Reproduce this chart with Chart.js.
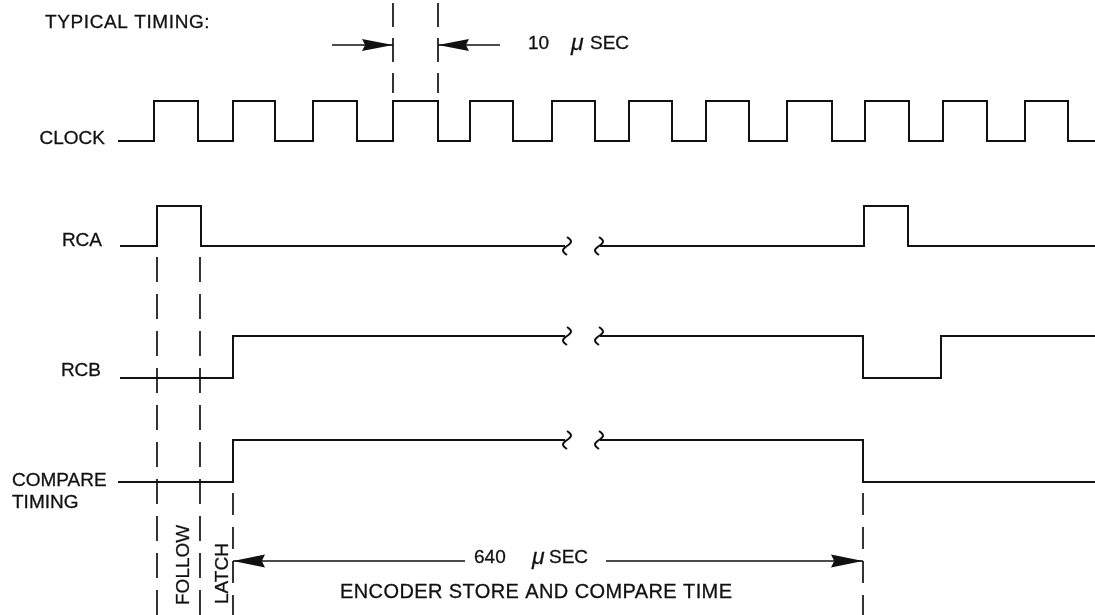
<!DOCTYPE html>
<html>
<head>
<meta charset="utf-8">
<script src="https://cdn.jsdelivr.net/npm/chart.js@4.4.1/dist/chart.umd.min.js"></script>
<style>
body { margin: 0; background: #fff; }
canvas { display: block; }
</style>
</head>
<body>
<canvas id="timing" width="1095" height="615"></canvas>
<script>
// signal edges (time axis units), each edge toggles the level
const clockEdges = [154, 198, 233, 275, 313, 357, 393, 438, 470, 513, 552, 595, 629, 672, 706, 749, 787, 832, 865, 909, 943, 987, 1025, 1068];
const rcaEdges = [157, 201, 864, 908];
const rcbEdges = [233, 863, 941];
const compareEdges = [233, 863];
const signalNames = ['CLOCK', 'RCA', 'RCB', 'COMPARE'];
const startTime = [118, 120, 120, 118];
const endTime = 1095;
const breakTimes = [565, 600];

// lane layout (vertical axis, 0 at top)
const laneLow = [141, 246, 378, 482];
const laneHeight = [40, 40, 42, 42];
const ink = '#111';
const font = '"Liberation Sans", Arial, sans-serif';

function wave(lane, edges, broken) {
    const low = laneLow[lane], high = laneLow[lane] - laneHeight[lane];
    let level = low;
    const pts = [{x: startTime[lane], y: level}];
    let gapDone = !broken;
    for (const t of edges) {
        if (!gapDone && t > breakTimes[0]) {
            pts.push({x: breakTimes[0], y: level}, {x: (breakTimes[0] + breakTimes[1]) / 2, y: null}, {x: breakTimes[1], y: level});
            gapDone = true;
        }
        pts.push({x: t, y: level});
        level = level === low ? high : low;
        pts.push({x: t, y: level});
    }
    pts.push({x: endTime, y: level});
    return pts;
}

function signalSet(data) {
    return {data: data, borderColor: ink, borderWidth: 2, pointRadius: 0, tension: 0, spanGaps: false, fill: false};
}
function guideSet(x, y0, y1, dash) {
    return {data: [{x: x, y: y0}, {x: x, y: y1}], borderColor: ink, borderWidth: 1.7, borderDash: dash, pointRadius: 0, fill: false};
}

const datasets = [
    signalSet(wave(0, clockEdges, false)),
    signalSet(wave(1, rcaEdges, true)),
    signalSet(wave(2, rcbEdges, true)),
    signalSet(wave(3, compareEdges, true)),
    guideSet(157, 257, 615, [25, 12]),
    guideSet(200, 257, 615, [25, 12]),
    guideSet(233, 493, 615, [22, 12]),
    guideSet(863, 493, 615, [22, 12]),
    guideSet(393, 3, 93, [24, 11]),
    guideSet(438, 3, 93, [24, 11])
];

const notes = {
    id: 'notes',
    afterDatasetsDraw(chart) {
        const c = chart.ctx;
        const X = v => chart.scales.x.getPixelForValue(v);
        const Y = v => chart.scales.y.getPixelForValue(v);
        c.save();
        c.fillStyle = ink;
        c.strokeStyle = ink;

        // break marks on the three slow signals
        c.lineWidth = 2;
        [1, 2, 3].forEach(lane => {
            const level = lane === 1 ? laneLow[lane] : laneLow[lane] - laneHeight[lane];
            breakTimes.forEach((t, i) => {
                const cx = X(t) + (i === 0 ? 2 : -1);
                const cy = Y(level);
                c.beginPath();
                for (let k = -9; k <= 9; k++) {
                    const px = cx - 4 * Math.sin(Math.PI * k / 9);
                    if (k === -9) c.moveTo(px, cy + k); else c.lineTo(px, cy + k);
                }
                c.stroke();
            });
        });

        function head(tip, y, dir, len, half) {
            c.beginPath();
            c.moveTo(X(tip), Y(y));
            c.lineTo(X(tip) - dir * len, Y(y) - half);
            c.lineTo(X(tip) - dir * len * 0.9, Y(y));
            c.lineTo(X(tip) - dir * len, Y(y) + half);
            c.closePath();
            c.fill();
        }
        function hline(x0, x1, y) {
            c.beginPath();
            c.moveTo(X(x0), Y(y));
            c.lineTo(X(x1), Y(y));
            c.stroke();
        }

        // 10 usec dimension
        c.lineWidth = 1.7;
        hline(332, 393, 45);
        head(393, 45, 1, 31, 6);
        hline(438, 500, 45);
        head(438, 45, -1, 31, 6);

        // 640 usec dimension
        hline(233, 465, 561);
        head(233, 561, -1, 32, 6.5);
        hline(606, 863, 561);
        head(863, 561, 1, 32, 6.5);

        function text(s, x, y, align, size, spacing, style) {
            c.font = (style || '') + ' ' + (size || 19) + 'px ' + font;
            c.letterSpacing = (spacing || 0) + 'px';
            c.textAlign = align || 'left';
            c.textBaseline = 'alphabetic';
            c.lineWidth = 0.3;
            c.fillText(s, X(x), Y(y));
            c.strokeText(s, X(x), Y(y));
        }

        text('TYPICAL TIMING:', 45, 28, 'left', 19, 0.6);
        text(signalNames[0], 105, 144, 'right');
        text(signalNames[1], 102, 246, 'right');
        text(signalNames[2], 101, 376, 'right');
        text(signalNames[3], 12, 486, 'left');
        text('TIMING', 12, 508, 'left');

        text('10', 528, 49);
        text('\u03bc', 571, 50, 'left', 23, 0, 'italic');
        text('SEC', 590, 49);

        text('640', 474, 563);
        text('\u03bc', 532, 564, 'left', 23, 0, 'italic');
        text('SEC', 549, 563);

        text('ENCODER STORE AND COMPARE TIME', 340, 598, 'left', 20, 0.4);

        // vertical interval labels
        [['FOLLOW', 189, 605], ['LATCH', 228, 604]].forEach(([s, x, y]) => {
            c.save();
            c.translate(X(x), Y(y));
            c.rotate(-Math.PI / 2);
            c.font = '19px ' + font;
            c.letterSpacing = '0px';
            c.textAlign = 'left';
            c.textBaseline = 'alphabetic';
            c.lineWidth = 0.3;
            c.fillText(s, 0, 0);
            c.strokeText(s, 0, 0);
            c.restore();
        });
        c.restore();
    }
};

const ctxTiming = document.getElementById('timing').getContext('2d');
const graficoTiming = new Chart(ctxTiming, {
    type: 'line',
    data: {datasets: datasets},
    options: {
        responsive: false,
        animation: false,
        layout: {padding: 0},
        plugins: {
            legend: {display: false},
            tooltip: {enabled: false},
            title: {display: false}
        },
        scales: {
            x: {type: 'linear', min: 0, max: 1095, display: false},
            y: {type: 'linear', min: 0, max: 615, reverse: true, display: false}
        }
    },
    plugins: [notes]
});
</script>
</body>
</html>
